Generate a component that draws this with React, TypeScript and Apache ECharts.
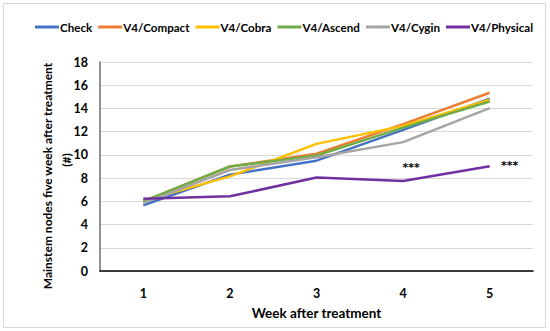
import React, { useEffect, useRef } from "react";
import * as echarts from "echarts";

const categories = ["1", "2", "3", "4", "5"];
const seriesNames = ["Check", "V4/Compact", "V4/Cobra", "V4/Ascend", "V4/Cygin", "V4/Physical"];
const check = [5.66, 8.3, 9.5, 12.15, 14.85];
const compact = [6.0, 9.0, 10.1, 12.65, 15.35];
const cobra = [6.05, 8.15, 10.95, 12.5, 14.75];
const ascend = [6.0, 9.0, 9.95, 12.35, 14.6];
const cygin = [5.85, 8.7, 9.8, 11.1, 14.03];
const physical = [6.23, 6.43, 8.05, 7.75, 9.03];
const colors = ["#4472C4", "#ED7D31", "#FFC000", "#70AD47", "#A5A5A5", "#7030A0"];
const yTicks = { min: 0, max: 18, interval: 2 };
const yTitle = "Mainstem nodes five week after treatment";
const yTitle2 = "(#)";

const FONT = "Lato, 'Noto Sans', sans-serif";

export default function App() {
  const ref = useRef<HTMLDivElement>(null);
  useEffect(() => {
    if (!ref.current) return;
    const chart = echarts.init(ref.current, undefined, { renderer: "svg" });
    const data = [check, compact, cobra, ascend, cygin, physical];
    const titleStyle = { fontFamily: FONT, fontWeight: "bold", fontSize: 12, fill: "#000", align: "center", verticalAlign: "middle" };
    const starLabel = {
      show: true,
      formatter: "***",
      fontFamily: "'DejaVu Sans', sans-serif",
      fontWeight: "bold",
      fontSize: 11,
      color: "#000000",
      textBorderWidth: 0,
    };
    chart.setOption({
      animation: false,
      backgroundColor: "#ffffff",
      color: colors,
      graphic: [
        {
          type: "rect",
          shape: { x: 3.5, y: 3.5, width: 542, height: 324 },
          style: { fill: "none", stroke: "#d9d9d9", lineWidth: 1 },
          silent: true,
        },
        { type: "text", x: 47, y: 176, rotation: Math.PI / 2, style: { text: yTitle, ...titleStyle } },
        { type: "text", x: 66, y: 160, rotation: Math.PI / 2, style: { text: yTitle2, ...titleStyle } },
      ],
      legend: {
        top: 21,
        left: 35,
        width: 540,
        padding: 0,
        icon: "path://M0,0 L24,0 L24,3 L0,3 Z",
        itemWidth: 24,
        itemHeight: 3,
        itemGap: 6,
        textStyle: { fontFamily: FONT, fontWeight: "bold", fontSize: 11.6, color: "#000", padding: [0, 0, 0, -4] },
        data: seriesNames,
      },
      grid: { left: 100, right: 17, top: 62, bottom: 60 },
      xAxis: {
        type: "category",
        data: categories,
        name: "Week after treatment",
        nameLocation: "middle",
        nameGap: 35,
        nameTextStyle: { fontFamily: FONT, fontWeight: "bold", fontSize: 13.5, color: "#000" },
        axisLine: { lineStyle: { color: "#000", width: 1.5 } },
        axisTick: { show: false },
        axisLabel: { fontFamily: FONT, fontWeight: "bold", fontSize: 12.5, color: "#000", margin: 16 },
      },
      yAxis: {
        type: "value",
        min: yTicks.min,
        max: yTicks.max,
        interval: yTicks.interval,
        axisLine: { show: true, lineStyle: { color: "#6e6e6e", width: 1.5 } },
        axisTick: { show: false },
        splitLine: { lineStyle: { color: "#d9d9d9", width: 1 } },
        axisLabel: { fontFamily: FONT, fontWeight: "bold", fontSize: 12.5, color: "#000", margin: 12 },
      },
      series: seriesNames.map((n, i) => ({
        name: n,
        type: "line",
        data: data[i],
        symbol: "none",
        lineStyle: { width: 2.5, color: colors[i] },
        itemStyle: { color: colors[i] },
        z: i === 5 ? 3 : 2,
        markPoint:
          i === 5
            ? {
                symbol: "rect",
                symbolSize: 1,
                itemStyle: { color: "rgba(0,0,0,0)" },
                label: starLabel,
                data: [
                  { coord: ["4", 8.75], label: { ...starLabel, offset: [8, -2] } },
                  { coord: ["5", 9.0], label: { ...starLabel, offset: [20, -1] } },
                ],
              }
            : undefined,
      })),
    });
    return () => chart.dispose();
  }, []);
  return <div ref={ref} style={{ position: "fixed", left: 0, top: 0, width: 550, height: 331 }} />;
}
